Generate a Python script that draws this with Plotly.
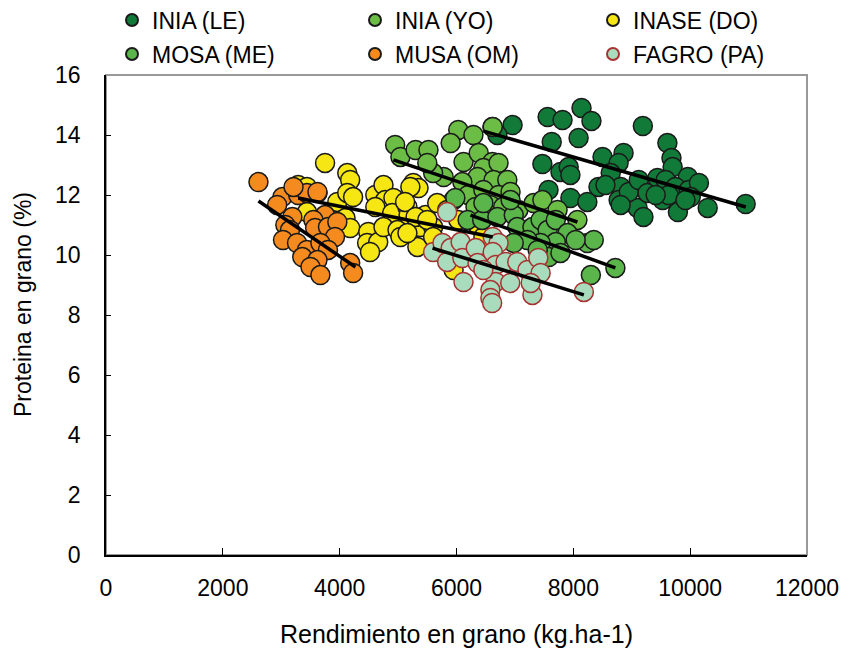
import plotly.graph_objects as go

# ---------------- data ----------------
le_x = [6616, 6960, 6700, 7560, 7815, 8140, 8310, 7630, 8090, 9190, 7470, 7780, 7920, 7950,
        8500, 8860, 8775, 7575, 7950, 8240, 8430, 8640, 8810, 8775, 9100, 9200, 8950, 9120,
        9270, 9440, 9610, 9680, 9700, 9580, 9530, 9790, 9960, 9750, 9975, 10150, 10010,
        10300, 10950, 9630, 8550, 9410, 9920, 8810]
le_y = [14.27, 14.33, 14.0, 14.6, 14.5, 14.9, 14.47, 13.77, 13.9, 14.3, 13.03, 12.77, 12.93,
        12.67, 13.27, 13.4, 13.07, 12.17, 11.9, 11.77, 12.27, 12.73, 12.27, 11.83, 11.57,
        11.27, 12.1, 12.5, 12.07, 12.57, 13.73, 13.23, 12.93, 12.5, 11.83, 11.43, 12.6, 12.27,
        12.17, 12.4, 11.93, 11.57, 11.7, 12.0, 12.33, 12.0, 11.83, 11.67]

yo_x = [4950, 5040, 5300, 5520, 6030, 6290, 5900, 6120, 6380, 6615, 6460, 6720, 6360, 6635,
        6870, 6100, 5780, 5600, 6200, 6460, 6720, 6925, 5950, 6325, 6580, 6800, 7060, 7320,
        7470, 7730, 8070, 5500, 6620]
yo_y = [13.67, 13.27, 13.5, 13.5, 14.17, 14.0, 13.73, 13.1, 13.4, 13.1, 12.9, 13.07, 12.6,
        12.5, 12.5, 12.43, 12.6, 12.73, 12.0, 12.17, 12.0, 12.1, 11.83, 11.6, 11.67, 11.6,
        11.5, 11.73, 11.83, 11.5, 11.17, 13.07, 14.27]

do_x = [3750, 3290, 4130, 4180, 3620, 3440, 3960, 4130, 4230, 4100, 4180, 4490, 4470, 4660,
        4520, 4610, 4750, 4780, 4920, 4610, 4900, 4750, 4990, 5040, 5160, 5180, 5330, 5380,
        5330, 5260, 5350, 5470, 5600, 3440, 5210, 5120, 5300, 5500, 5670, 5840, 6030, 5160,
        5600, 5950, 6360, 6460]
do_y = [13.07, 12.33, 12.73, 12.5, 12.07, 11.43, 11.77, 12.07, 11.93, 11.23, 10.9, 10.77,
        10.4, 10.43, 10.1, 12.0, 12.33, 11.83, 11.9, 11.6, 11.4, 10.93, 10.83, 10.6, 11.6,
        11.33, 11.23, 10.93, 10.27, 12.4, 12.23, 11.33, 10.93, 12.27, 12.27, 11.77, 11.27,
        11.17, 11.73, 11.5, 11.17, 10.73, 10.6, 9.5, 11.0, 10.6]

me_x = [5980, 6190, 6440, 6700, 6980, 7040, 7300, 7440, 7560, 7700, 7900, 7700, 7440, 7215,
        6980, 8240, 8350, 8300, 8720, 7580, 7390, 6460, 6925, 7780, 8040]
me_y = [11.9, 11.17, 11.17, 11.27, 11.33, 10.93, 10.93, 11.17, 10.83, 11.17, 10.73, 10.43,
        10.4, 10.5, 10.4, 10.4, 10.5, 9.33, 9.57, 9.93, 10.17, 11.73, 11.83, 10.07, 10.5]

om_x = [2610, 3020, 2930, 3290, 3440, 3620, 3190, 3070, 3750, 3550, 3150, 3580, 3800, 3960,
        3920, 3030, 3270, 3440, 3670, 3800, 3360, 3620, 3500, 3670, 4180, 4230, 3210]
om_y = [12.43, 11.93, 11.67, 12.0, 12.07, 12.1, 11.27, 11.0, 11.33, 11.17, 10.83, 10.9,
        10.93, 11.1, 10.6, 10.5, 10.4, 10.17, 10.4, 10.17, 9.93, 9.83, 9.6, 9.33, 9.73, 9.4,
        12.27]

pa_x = [5840, 5600, 5760, 5900, 5840, 6070, 6100, 6120, 6330, 6360, 6620, 6720, 6620, 6670,
        6840, 7040, 6670, 6580, 6580, 6610, 6920, 7215, 7300, 7400, 7440, 7270, 8180, 6460]
pa_y = [11.43, 10.1, 10.4, 10.23, 9.77, 10.43, 9.9, 9.1, 10.23, 9.73, 10.6, 10.4, 10.1,
        9.67, 9.77, 9.77, 9.1, 8.83, 8.57, 8.4, 9.07, 9.5, 8.67, 9.9, 9.4, 9.07, 8.77, 9.5]

# trend line end points
le_trend_x, le_trend_y = [6463, 10953], [14.13, 11.6]
yo_trend_x, yo_trend_y = [4920, 8070], [13.17, 11.1]
do_trend_x, do_trend_y = [3290, 6620], [11.9, 10.6]
me_trend_x, me_trend_y = [6240, 8720], [11.33, 9.57]
om_trend_x, om_trend_y = [2610, 4270], [11.8, 9.6]
pa_trend_x, pa_trend_y = [5590, 8180], [10.23, 8.67]

series_names = ["INIA (LE)", "INIA (YO)", "INASE (DO)", "MOSA (ME)", "MUSA (OM)", "FAGRO (PA)"]
x_ticks = [0, 2000, 4000, 6000, 8000, 10000, 12000]
y_ticks = [0, 2, 4, 6, 8, 10, 12, 14, 16]

# ---------------- figure ----------------
FONT = "Liberation Sans, Arial, sans-serif"
W, H = 850, 649
OFF = 8  # page body margin shifts the figure by this much in the browser
ML, MT = 106 - OFF, 75 - OFF
PW, PH = 701, 480
MR, MB = W - ML - PW, H - MT - PH

def px_x(sx):   # screenshot x -> paper x
    return (sx - OFF - ML) / PW

def px_y(sy):   # screenshot y -> paper y
    return (MT + PH - (sy - OFF)) / PH

fig = go.Figure()

series = [
    (le_x, le_y, "#127a38", "#1a1a1a"),
    (yo_x, yo_y, "#6cbd45", "#1a1a1a"),
    (do_x, do_y, "#f5e614", "#1a1a1a"),
    (me_x, me_y, "#5ab54a", "#1a1a1a"),
    (om_x, om_y, "#f58a1f", "#1a1a1a"),
    (pa_x, pa_y, "#a9dbbd", "#a83232"),
]
legend_ids = ["legend", "legend2", "legend3", "legend4", "legend5", "legend6"]
for name, (xs, ys, fill, edge), leg in zip(series_names, series, legend_ids):
    fig.add_trace(go.Scatter(
        x=xs, y=ys, mode="markers", name=name, legend=leg,
        marker=dict(size=19, color=fill, line=dict(color=edge, width=1.5)),
    ))

for tx, ty in [(le_trend_x, le_trend_y), (yo_trend_x, yo_trend_y), (do_trend_x, do_trend_y),
               (me_trend_x, me_trend_y), (om_trend_x, om_trend_y), (pa_trend_x, pa_trend_y)]:
    fig.add_trace(go.Scatter(x=tx, y=ty, mode="lines", showlegend=False,
                             line=dict(color="black", width=3.5)))

# gray frame (top/right) drawn under the black axes
fig.add_shape(type="rect", xref="paper", yref="paper", x0=0, y0=0, x1=1, y1=1,
              line=dict(color="#999999", width=2), layer="below")

# legend layout: 3 columns x 2 rows (text start px, row centre px in the screenshot)
col_text_px = [153, 396, 634]
row_px = [20, 54]
legend_layout = {}
for i, leg in enumerate(legend_ids):
    c, r = i % 3, i // 3
    legend_layout[leg] = dict(
        orientation="v", xanchor="left", yanchor="middle",
        x=px_x(col_text_px[c] - 41), y=px_y(row_px[r]),
        font=dict(family=FONT, size=23, color="black"),
        itemsizing="constant", bgcolor="rgba(0,0,0,0)", itemwidth=30,
    )

fig.add_annotation(text="Proteina en grano (%)", textangle=-90, showarrow=False,
                   xref="paper", yref="paper", x=px_x(23), y=px_y(305),
                   xanchor="center", yanchor="middle",
                   font=dict(family=FONT, size=23, color="black"))

fig.update_layout(
    width=W, height=H,
    margin=dict(l=ML, r=MR, t=MT, b=MB, autoexpand=False),
    paper_bgcolor="white", plot_bgcolor="white",
    font=dict(family=FONT, size=23, color="black"),
    showlegend=True,
    **legend_layout,
    xaxis=dict(range=[0, 12000], tickvals=x_ticks, ticktext=[str(v) for v in x_ticks],
               showgrid=False, zeroline=False, showline=True, linecolor="black", linewidth=1.5,
               ticks="inside", ticklen=7, tickcolor="black", tickwidth=1,
               ticklabelstandoff=12,
               tickfont=dict(family=FONT, size=23),
               title=dict(text="Rendimiento en grano (kg.ha-1)", standoff=25,
                          font=dict(family=FONT, size=25))),
    yaxis=dict(range=[0, 16], tickvals=y_ticks, ticktext=[str(v) for v in y_ticks],
               showgrid=False, zeroline=False, showline=True, linecolor="black", linewidth=1.5,
               ticks="inside", ticklen=5, tickcolor="black", tickwidth=1,
               ticklabelstandoff=19,
               tickfont=dict(family=FONT, size=23)),
)

fig.write_html("out.html")
